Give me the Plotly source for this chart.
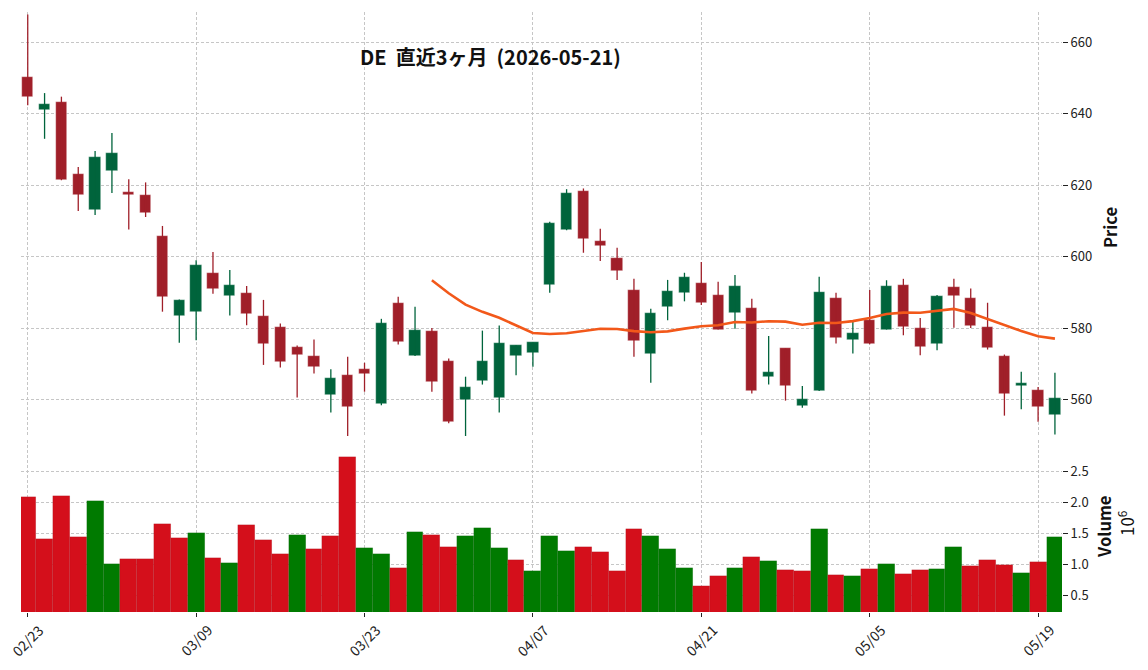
import numpy as np
import pandas as pd
import plotly.graph_objects as go
from plotly.subplots import make_subplots

# ---------------- data ----------------
dates = [d for d in pd.bdate_range("2026-02-23", "2026-05-20") if d != pd.Timestamp("2026-04-03")]
date_labels = [d.strftime("%m/%d") for d in dates]

opens = [650.3, 641.2, 643.3, 623.2, 613.0, 623.9, 618.2, 617.4, 605.9, 583.4,
         584.5, 595.3, 589.0, 589.7, 583.3, 580.2, 574.6, 572.1, 561.3, 566.8,
         568.5, 558.8, 586.9, 572.2, 579.1, 570.7, 559.9, 565.1, 560.5, 572.2,
         573.0, 592.0, 607.4, 618.5, 604.5, 599.5, 590.8, 572.8, 585.9, 589.8,
         592.5, 589.4, 584.1, 585.5, 566.3, 574.3, 558.2, 562.4, 588.3, 576.7,
         582.4, 579.6, 592.2, 580.0, 575.5, 591.4, 588.3, 580.2, 572.1, 563.8,
         562.6, 555.7]
highs = [667.8, 645.8, 644.8, 625.1, 629.6, 634.6, 621.7, 620.8, 608.6, 588.0,
         599.0, 601.3, 596.3, 591.8, 587.9, 581.3, 575.1, 576.8, 568.5, 572.0,
         570.3, 582.6, 588.8, 586.0, 580.0, 571.5, 566.4, 579.3, 580.7, 575.2,
         576.0, 609.8, 618.9, 619.1, 607.8, 602.5, 593.8, 585.4, 593.5, 595.5,
         598.5, 593.0, 594.9, 588.2, 577.8, 574.3, 563.8, 594.4, 589.9, 581.7,
         590.7, 593.4, 593.8, 582.8, 589.3, 593.8, 591.1, 587.1, 572.6, 567.8,
         563.5, 567.5]
lows = [642.4, 633.0, 621.4, 612.8, 611.7, 617.8, 607.6, 611.1, 584.6, 575.9,
        576.6, 589.6, 583.5, 580.8, 569.7, 569.0, 560.6, 567.3, 556.4, 549.8,
        562.2, 558.4, 575.4, 572.2, 562.2, 553.4, 549.8, 564.2, 556.4, 566.8,
        569.2, 589.9, 607.4, 601.1, 598.8, 593.5, 572.0, 564.7, 582.2, 587.5,
        586.5, 579.6, 579.8, 561.7, 564.2, 559.7, 557.7, 562.4, 575.7, 572.9,
        575.5, 579.6, 578.0, 572.4, 573.8, 580.1, 580.0, 574.0, 555.5, 557.3,
        553.8, 550.2]
closes = [644.8, 642.8, 621.6, 617.4, 628.0, 629.1, 617.2, 612.1, 588.7, 588.0,
          597.8, 590.9, 592.2, 583.9, 575.5, 570.5, 572.5, 569.1, 566.0, 558.0,
          567.2, 581.3, 576.1, 579.6, 564.9, 553.8, 563.4, 570.7, 575.7, 575.2,
          576.0, 609.3, 617.9, 604.9, 602.9, 595.9, 576.4, 584.1, 590.5, 594.4,
          586.9, 579.6, 591.9, 562.4, 567.6, 563.8, 560.1, 590.0, 577.2, 578.5,
          575.5, 591.7, 580.2, 574.7, 588.9, 589.1, 580.6, 574.3, 561.5, 564.6,
          558.0, 560.4]
volumes_m = [2.086, 1.409, 2.102, 1.441, 2.022, 1.005, 1.086, 1.086, 1.651, 1.425,
             1.505, 1.102, 1.022, 1.634, 1.392, 1.167, 1.473, 1.247, 1.457, 2.731,
             1.263, 1.167, 0.941, 1.522, 1.473, 1.280, 1.457, 1.586, 1.263, 1.070,
             0.892, 1.457, 1.215, 1.280, 1.199, 0.892, 1.570, 1.457, 1.247, 0.941,
             0.651, 0.812, 0.941, 1.118, 1.054, 0.909, 0.892, 1.570, 0.828, 0.812,
             0.925, 1.005, 0.844, 0.909, 0.925, 1.280, 0.973, 1.070, 0.989, 0.860,
             1.038, 1.441]
ma_window = 25
tick_every = 10
price_ticks = [560, 580, 600, 620, 640, 660]
volume_ticks = [0.5, 1.0, 1.5, 2.0, 2.5]
title_text = "DE  直近3ヶ月  (2026-05-21)"

# ---------------- styles ----------------
UP_C = "#00643c"
DN_C = "#a01f29"
VUP_C = "#007a00"
VDN_C = "#d40f1b"
MA_C = "#f2581a"
FONT = "Noto Sans CJK JP"
GRID = dict(showgrid=True, gridcolor="#c6c6c6", gridwidth=0.8, griddash="3px,2px", zeroline=False)

n = len(closes)
idx = list(range(n))
o = np.array(opens); c = np.array(closes)
body_base = np.minimum(o, c)
body_h = np.maximum(np.abs(c - o), 0.25)
candle_colors = [UP_C if cc > oo else DN_C for oo, cc in zip(opens, closes)]
vol_colors = [VUP_C if opens[0] < closes[0] else VDN_C] + \
             [VUP_C if closes[i - 1] < closes[i] else VDN_C for i in range(1, n)]
ma = pd.Series(closes).rolling(ma_window).mean()

fig = make_subplots(rows=2, cols=1, shared_xaxes=True, vertical_spacing=0.005,
                    row_heights=[0.712, 0.288])

# wicks
for col, is_up in [(UP_C, True), (DN_C, False)]:
    wx, wy = [], []
    for i in idx:
        if (closes[i] > opens[i]) == is_up:
            wx += [i, i, None]
            wy += [lows[i], highs[i], None]
    fig.add_trace(go.Scatter(x=wx, y=wy, mode="lines", line=dict(color=col, width=1.3),
                             hoverinfo="skip", showlegend=False), row=1, col=1)

# bodies
fig.add_trace(go.Bar(x=idx, y=body_h, base=body_base, width=0.67,
                     marker=dict(color=candle_colors, line=dict(width=0.6, color="rgba(255,255,255,0.6)")),
                     showlegend=False), row=1, col=1)

# moving average
fig.add_trace(go.Scatter(x=idx, y=ma, mode="lines", line=dict(color=MA_C, width=2.6),
                         showlegend=False), row=1, col=1)

# volume
fig.add_trace(go.Bar(x=idx, y=volumes_m, width=1.0,
                     marker=dict(color=vol_colors, line=dict(width=0.5, color="rgba(0,0,0,0.12)")),
                     showlegend=False), row=2, col=1)

tickvals = idx[::tick_every]
ticktext = [date_labels[i] for i in tickvals]
xr = [-0.4, 61.42]

fig.update_xaxes(range=xr, tickvals=tickvals, ticktext=ticktext, showline=False, **GRID)
fig.update_xaxes(showticklabels=False, ticks="", row=1, col=1)
fig.update_xaxes(showticklabels=False, ticks="outside", ticklen=4, tickwidth=1, tickcolor="#222",
                 row=2, col=1)

fig.update_yaxes(side="right", showline=False, ticks="outside", ticklen=5, tickwidth=1,
                 tickcolor="#222", tickfont=dict(family=FONT, size=13, color="#222"), **GRID)
fig.update_yaxes(range=[549.5, 668.5], tickvals=price_ticks, row=1, col=1)
fig.update_yaxes(range=[0.235, 3.01], tickvals=volume_ticks,
                 ticktext=[f"{v:.1f}" for v in volume_ticks], row=2, col=1)

L, R, T, B = 21, 86, 12, 58
W, H = 1148, 670
pw, ph = W - L - R, H - T - B

def px(xp):
    return (xp - L) / pw

def py(yp):
    return (H - B - yp) / ph

# rotated x tick labels (centred on the tick, as matplotlib does)
for tv, tt in zip(tickvals, ticktext):
    fig.add_annotation(text=tt, x=tv, xref="x2", y=py(640), yref="paper", showarrow=False,
                       textangle=-45, xanchor="center", yanchor="middle",
                       font=dict(family=FONT, size=14, color="#222"))

fig.add_annotation(text=f"<b>{title_text}</b>", x=px(490), y=py(56), xref="paper", yref="paper",
                   showarrow=False, xanchor="center", yanchor="middle",
                   font=dict(family=FONT, size=20, color="#111"))
fig.add_annotation(text="<b>Price</b>", x=px(1110), y=py(228), xref="paper", yref="paper",
                   showarrow=False, textangle=-90, xanchor="center", yanchor="middle",
                   font=dict(family=FONT, size=16.5, color="#111"))
fig.add_annotation(text="<b>Volume</b>", x=px(1104), y=py(527), xref="paper", yref="paper",
                   showarrow=False, textangle=-90, xanchor="center", yanchor="middle",
                   font=dict(family=FONT, size=16.5, color="#111"))
fig.add_annotation(text="10<sup>6</sup>", x=px(1126), y=py(523), xref="paper", yref="paper",
                   showarrow=False, textangle=-90, xanchor="center", yanchor="middle",
                   font=dict(family=FONT, size=17, color="#111"))

fig.update_layout(width=W, height=H, margin=dict(l=L, r=R, t=T, b=B),
                  paper_bgcolor="white", plot_bgcolor="white", bargap=0,
                  font=dict(family=FONT), showlegend=False)

fig.write_html("out.html")
